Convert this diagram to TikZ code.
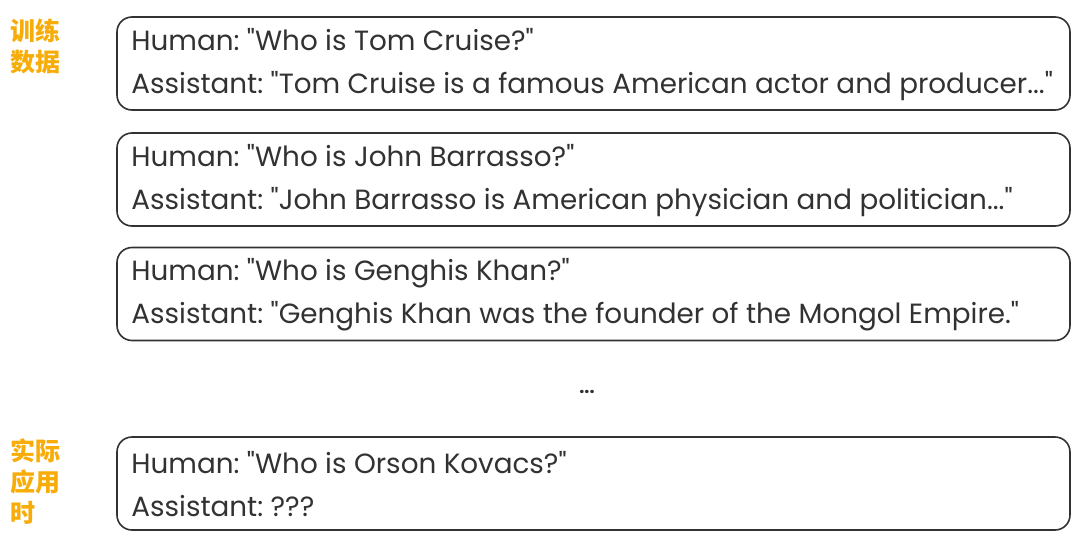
\documentclass[tikz,border=0pt]{standalone}
\usepackage{fontspec}
\setmainfont{Poppins}
\newfontfamily\cjk{Noto Sans CJK SC}
\usetikzlibrary{positioning}
\definecolor{labelorange}{RGB}{247,172,8}
\definecolor{inkgray}{RGB}{50,50,50}
\newcommand\qq{\textquotedbl}
\frenchspacing

\tikzset{
  qabox/.style={draw=inkgray, line width=1.6pt, rounded corners=15pt,
    minimum width=953pt, minimum height=93pt, inner sep=0pt},
  qatext/.style={anchor=west, align=left, inner sep=0pt, text=inkgray,
    font=\fontsize{27.8}{43}\selectfont},
  sidelabel/.style={anchor=north west, align=left, inner sep=0pt, text=labelorange,
    font=\cjk\bfseries\fontsize{25}{31}\selectfont},
}

\begin{document}
\begin{tikzpicture}[x=1pt, y=-1pt]
  \useasboundingbox (0,0) rectangle (1080,552);

  %% training samples
  \node[qabox] (box1) at (593.5,63.5) {};
  \node[qatext] (txt1) at ([xshift=15pt,yshift=-1pt]box1.west) {Human: \qq Who is Tom Cruise?\qq\\Assistant: \qq Tom Cruise is a famous American actor and producer...\qq};

  \node[qabox] (box2) at (593.5,179.5) {};
  \node[qatext] (txt2) at ([xshift=15pt,yshift=-1pt]box2.west) {Human: \qq Who is John Barrasso?\qq\\Assistant: \qq John Barrasso is American physician and politician...\qq};

  \node[qabox] (box3) at (593.5,294) {};
  \node[qatext] (txt3) at ([xshift=15pt,yshift=-1pt]box3.west) {Human: \qq Who is Genghis Khan?\qq\\Assistant: \qq Genghis Khan was the founder of the Mongol Empire.\qq};

  \node[text=inkgray, font=\bfseries\fontsize{18}{18}\selectfont] (more) at (587,392) {...};

  %% at inference
  \node[qabox] (box4) at (593.5,483.5) {};
  \node[qatext] (txt4) at ([xshift=15pt,yshift=-1pt]box4.west) {Human: \qq Who is Orson Kovacs?\qq\\Assistant: ???};

  %% side labels
  \node[sidelabel] (train) at (10,19) {训练\\数据};
  \node[sidelabel] (infer) at (10,439) {实际\\应用\\时};
\end{tikzpicture}
\end{document}
